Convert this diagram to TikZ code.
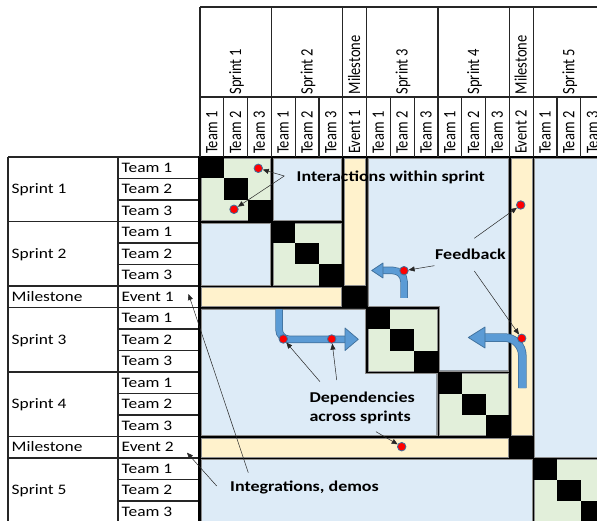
\documentclass[tikz,border=0pt]{standalone}
\usepackage{fontspec}
\setmainfont{Carlito}
\newfontfamily\widefont{Carlito}[FakeStretch=1.2]
\usetikzlibrary{arrows.meta}

\definecolor{cellblue}{HTML}{DDEBF7}
\definecolor{cellgreen}{HTML}{E2EFDA}
\definecolor{cellyellow}{HTML}{FFF2CC}
\definecolor{flowblue}{HTML}{5B9BD5}
\definecolor{flowedge}{HTML}{41719C}

\tikzset{
  gridline/.style={line width=1.1pt, black!85},
  rowlabel/.style={font=\widefont\fontsize{14.5}{17}\selectfont, anchor=base west, inner sep=0pt},
  collabel/.style={font=\fontsize{14.5}{17}\selectfont, rotate=90, anchor=base west, inner sep=0pt},
  note/.style={font=\widefont\bfseries\fontsize{15}{19.5}\selectfont, inner sep=0pt},
  pointer/.style={-{Triangle[length=6pt,width=5pt]}, line width=0.5pt, black!85},
  hotspot/.style={circle, fill=red, draw=flowedge, line width=0.8pt, minimum size=8.5pt, inner sep=0pt},
  shaft edge/.style={draw=flowedge, line width=#1+1.5pt},
  shaft fill/.style={draw=flowblue, line width=#1},
  flowhead/.style={fill=flowblue, draw=flowedge, line width=0.75pt, line join=round}
}

% one filled block of cells: first col, first row, last col, last row, colour
\newcommand\cellblock[5]{%
  \fill[#5, draw=black!45, line width=0.3pt]
    ({\ox+#1*\cw+\gap},{\oy+#2*\rh+\gap}) rectangle ({\ox+(#3+1)*\cw-\gap},{\oy+(#4+1)*\rh-\gap});}
% rotated header text, widened like the row labels
\newcommand\tallbox[1]{\scalebox{1}[1.2]{#1}}

\begin{document}
\begin{tikzpicture}[x=1pt, y=-1pt]
  \useasboundingbox (0,0) rectangle (597,521);
  \def\ox{200}
  \def\oy{157}
  \def\cw{23.8}
  \def\rh{21.5}
  \def\gap{1.3}

  % matrix
  \fill[black] (198,156) rectangle (605,525);
  \foreach \b in {0,3,7,10,14} {
    \cellblock{\b}{\b}{\b+2}{\b+2}{cellgreen}
    \foreach \k in {0,1,2}
      \fill[black] ({\ox+(\b+\k)*\cw},{\oy+(\b+\k)*\rh}) rectangle ++(\cw,\rh);
  }
  \cellblock{3}{0}{5}{2}{cellblue}
  \cellblock{0}{3}{2}{5}{cellblue}
  \cellblock{6}{0}{6}{5}{cellyellow}
  \cellblock{0}{6}{5}{6}{cellyellow}
  \cellblock{13}{0}{13}{12}{cellyellow}
  \cellblock{0}{13}{12}{13}{cellyellow}
  \cellblock{14}{0}{16}{13}{cellblue}
  \cellblock{0}{14}{13}{16}{cellblue}
  \fill[cellblue, draw=black!45, line width=0.3pt]
    ({\ox+7*\cw+\gap},{\oy+\gap}) -- ({\ox+13*\cw-\gap},{\oy+\gap})
    -- ({\ox+13*\cw-\gap},{\oy+10*\rh-\gap}) -- ({\ox+10*\cw+\gap},{\oy+10*\rh-\gap})
    -- ({\ox+10*\cw+\gap},{\oy+7*\rh-\gap}) -- ({\ox+7*\cw+\gap},{\oy+7*\rh-\gap}) -- cycle;
  \fill[cellblue, draw=black!45, line width=0.3pt]
    ({\ox+\gap},{\oy+7*\rh+\gap}) -- ({\ox+7*\cw-\gap},{\oy+7*\rh+\gap})
    -- ({\ox+7*\cw-\gap},{\oy+10*\rh+\gap}) -- ({\ox+10*\cw-\gap},{\oy+10*\rh+\gap})
    -- ({\ox+10*\cw-\gap},{\oy+13*\rh-\gap}) -- ({\ox+\gap},{\oy+13*\rh-\gap}) -- cycle;

  % header grid
  \draw[gridline] (\ox,7) -- (600,7);
  \draw[gridline] (\ox,97) -- (600,97);
  \foreach \b in {0,3,6,7,10,13,14}
    \draw[gridline] ({\ox+\b*\cw},7) -- ({\ox+\b*\cw},\oy);
  \foreach \i in {1,...,16}
    \draw[gridline] ({\ox+\i*\cw},97) -- ({\ox+\i*\cw},\oy);

  % row header grid
  \draw[gridline] (8,\oy) -- (198,\oy);
  \draw[gridline] (8,\oy) -- (8,525);
  \draw[gridline] (118,\oy) -- (118,525);
  \foreach \b in {3,6,7,10,13,14}
    \draw[gridline] (8,{\oy+\b*\rh}) -- (198,{\oy+\b*\rh});
  \foreach \j in {1,...,16}
    \draw[gridline] (118,{\oy+\j*\rh}) -- (198,{\oy+\j*\rh});

  % labels
  \foreach \lbl/\first/\len in {Sprint 1/0/3, Sprint 2/3/3, Milestone/6/1, Sprint 3/7/3, Sprint 4/10/3, Milestone/13/1, Sprint 5/14/3} {
    \node[collabel] (h\first) at ({\ox+(\first+\len/2)*\cw+5.4},94.5) {\tallbox{\lbl}};
    \node[rowlabel] (s\first) at (11.5,{\oy+(\first+\len/2)*\rh+4.7}) {\lbl};
  }
  \foreach \lbl [count=\i from 0] in {Team 1,Team 2,Team 3,Team 1,Team 2,Team 3,Event 1,Team 1,Team 2,Team 3,Team 1,Team 2,Team 3,Event 2,Team 1,Team 2,Team 3} {
    \node[collabel] (c\i) at ({\ox+(\i+0.5)*\cw+5.4},154) {\tallbox{\lbl}};
    \node[rowlabel] (r\i) at (121.5,{\oy+(\i+0.5)*\rh+4.7}) {\lbl};
  }

  % bent arrows
  \draw[shaft edge=6, rounded corners=10pt] (279,309.5) -- (279,339.3) -- (346,339.3);
  \draw[shaft fill=6, rounded corners=10pt] (279,309.5) -- (279,339.3) -- (346,339.3);
  \filldraw[flowhead] (345,328) -- (358.3,339.3) -- (345,350.5) -- cycle;
  \draw[shaft edge=6, rounded corners=11pt] (404,298) -- (404,270.5) -- (382,270.5);
  \draw[shaft fill=6, rounded corners=11pt] (404,298) -- (404,270.5) -- (382,270.5);
  \filldraw[flowhead] (383,263) -- (371.7,270.5) -- (383,278) -- cycle;
  \draw[shaft edge=7, rounded corners=18pt] (522.3,388) -- (522.3,337.5) -- (484,337.5);
  \draw[shaft fill=7, rounded corners=18pt] (522.3,388) -- (522.3,337.5) -- (484,337.5);
  \filldraw[flowhead] (485,327) -- (468.3,337.5) -- (485,348) -- cycle;

  % interaction points
  \node[hotspot] (p1) at (258.3,168.3) {};
  \node[hotspot] (p2) at (234,209.3) {};
  \node[hotspot] (p3) at (520.7,205) {};
  \node[hotspot] (p4) at (404,270.7) {};
  \node[hotspot] (p5) at (521.7,338.3) {};
  \node[hotspot] (p6) at (283.3,339) {};
  \node[hotspot] (p7) at (331.7,339) {};
  \node[hotspot] (p8) at (401.7,446.7) {};

  % notes
  \node[note, anchor=base west] (within) at (296.5,181.5) {Interactions within sprint};
  \node[note, anchor=base west] (feedback) at (435,259.5) {Feedback};
  \node[note, anchor=west, align=left] (depend) at (309.3,408) {Dependencies\\across sprints};
  \node[note, anchor=base west] (integr) at (230,491) {Integrations, demos};

  \coordinate (within-src) at (284.3,176);
  \draw[pointer] (within-src) -- (p1);
  \draw[pointer] (within-src) -- (p2);
  \coordinate (fb-up) at (474.3,238.3);
  \coordinate (fb-left) at (434.3,265.7);
  \coordinate (fb-down) at (474.3,271);
  \draw[pointer] (fb-up) -- (p3);
  \draw[pointer] (fb-left) -- (p4);
  \draw[pointer] (fb-down) -- (p5);
  \coordinate (dep-a) at (320,381.7);
  \coordinate (dep-b) at (336.7,380);
  \coordinate (dep-c) at (376,431.7);
  \draw[pointer] (dep-a) -- (p6);
  \draw[pointer] (dep-b) -- (p7);
  \draw[pointer] (dep-c) -- (p8);
  \coordinate (int-a) at (248.3,472.7);
  \coordinate (int-b) at (216.7,486);
  \coordinate (ev1) at (188.5,294);
  \coordinate (ev2) at (187,452.7);
  \draw[pointer] (int-a) -- (ev1);
  \draw[pointer] (int-b) -- (ev2);
\end{tikzpicture}
\end{document}
